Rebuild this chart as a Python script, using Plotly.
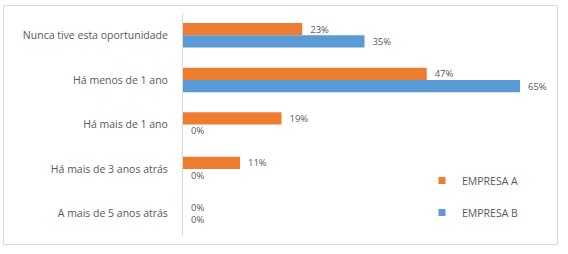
import plotly.graph_objects as go

categories = ["Nunca tive esta oportunidade", "Há menos de 1 ano", "Há mais de 1 ano",
              "Há mais de 3 anos atrás", "A mais de 5 anos atrás"]
empresa_a = [23, 47, 19, 11, 0]
empresa_b = [35, 65, 0, 0, 0]
series_names = ["EMPRESA A", "EMPRESA B"]
colors = ["#ED7D31", "#5B9BD5"]

W, H = 568, 254
L, R, T, B = 183, 22, 13, 18
pw, ph = W - L - R, H - T - B

fig = go.Figure()
for name, vals, col in zip(series_names, [empresa_a, empresa_b], colors):
    fig.add_trace(go.Bar(
        y=categories, x=vals, orientation="h", name=name,
        marker=dict(color=col, line=dict(width=0)),
        text=[f"  {v}%" for v in vals], textposition="outside",
        constraintext="none",
        textfont=dict(family="Open Sans", size=9.5, color="#595959"),
        cliponaxis=False, showlegend=False,
    ))
for i, (name, col) in enumerate(zip(series_names, colors)):
    fig.add_trace(go.Scatter(
        x=[None], y=[None], mode="markers", name=name, legendgroup=str(i),
        marker=dict(symbol="square", size=7, color=col),
    ))

def px_x(p):
    return (p - L) / pw

def px_y(p):
    return (H - B - p) / ph

fig.add_shape(type="rect", xref="paper", yref="paper",
              x0=px_x(3.5), x1=px_x(557.5), y0=px_y(244.5), y1=px_y(5.5),
              line=dict(color="#D9D9D9", width=1), fillcolor="rgba(0,0,0,0)", layer="below")

fig.update_layout(
    width=W, height=H,
    margin=dict(l=L, r=R, t=T, b=B),
    paper_bgcolor="white", plot_bgcolor="white",
    barmode="group", bargap=0.45, bargroupgap=0,
    font=dict(family="Open Sans", size=10.5, color="#595959"),
    xaxis=dict(range=[0, 70], visible=False, showgrid=False, zeroline=False),
    yaxis=dict(autorange="reversed", showgrid=False, zeroline=False,
               showline=True, linecolor="#D9D9D9", linewidth=1,
               ticks="", ticklabelstandoff=12,
               tickfont=dict(family="Open Sans", size=10.5, color="#595959")),
    showlegend=True,
    legend=dict(x=px_x(422), y=px_y(166), xanchor="left", yanchor="top",
                traceorder="grouped", tracegroupgap=13,
                itemwidth=30, bgcolor="rgba(0,0,0,0)",
                font=dict(family="Open Sans", size=10.5, color="#595959")),
)

fig.write_html("out.html")
